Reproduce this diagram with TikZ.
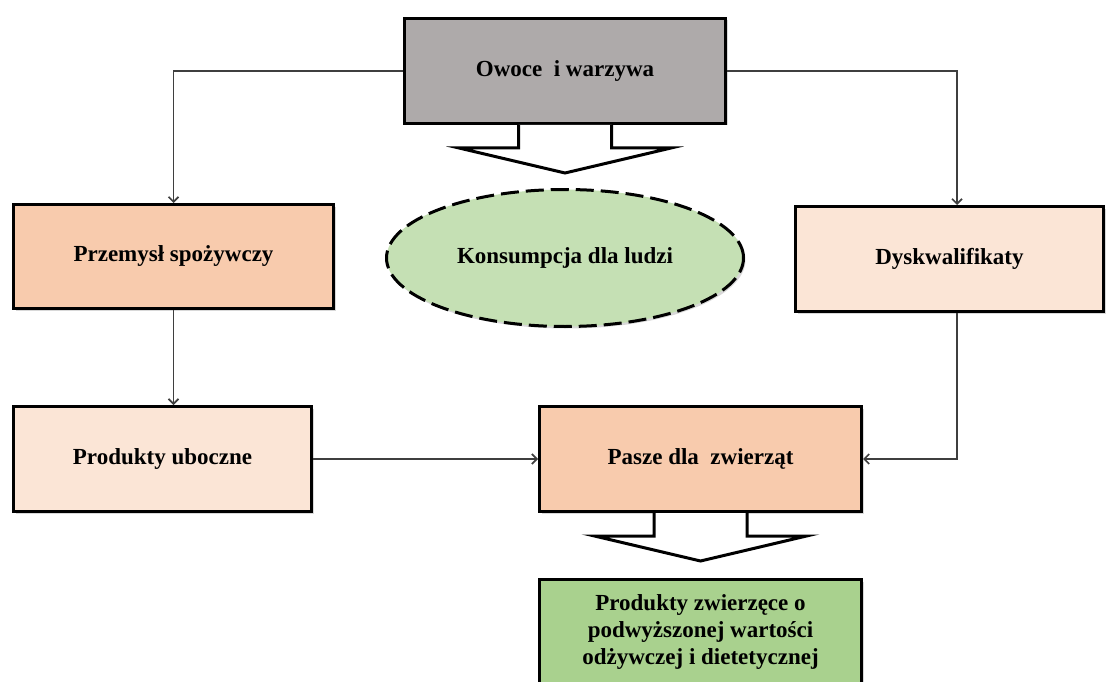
\documentclass[tikz,border=0pt]{standalone}
\usepackage{fontspec}
\setmainfont{Liberation Serif}
\usepackage{xcolor}
\usetikzlibrary{arrows.meta, shapes, backgrounds, shadows}

\definecolor{boxgray}{HTML}{AEAAAA}
\definecolor{peach}{HTML}{F8CBAD}
\definecolor{lightpeach}{HTML}{FBE5D6}
\definecolor{lightgreen}{HTML}{C5E0B4}
\definecolor{midgreen}{HTML}{A9D18E}
\definecolor{linegray}{HTML}{3F3F3F}

\begin{document}
\begin{tikzpicture}[x=1pt, y=-1pt, background rectangle/.style={fill=white}, show background rectangle, inner frame sep=0pt]
\useasboundingbox (0,0) rectangle (1106,682);

\begin{scope}[every node/.style={rectangle, draw=black, line width=3pt, align=center, inner sep=0pt,
              font=\bfseries\fontsize{23}{27}\selectfont,
              drop shadow={shadow xshift=2pt, shadow yshift=-2pt, opacity=0.3}}]
  \node[fill=boxgray, minimum width=321pt, minimum height=105pt] (owoce) at (565,71) {Owoce\ \ i warzywa};
    \node[fill=peach, minimum width=320pt, minimum height=104pt] (przemysl) at (173.5,256.5) {Przemysł spożywczy};
    \node[shape=ellipse, dashed, dash pattern=on 18pt off 7pt, fill=lightgreen, minimum width=357pt, minimum height=137pt] (konsumpcja) at (565,258) {Konsumpcja dla ludzi};
    \node[fill=lightpeach, minimum width=308pt, minimum height=105pt] (dysk) at (949.5,259) {Dyskwalifikaty};
    \node[fill=lightpeach, minimum width=298pt, minimum height=105pt] (uboczne) at (162.5,459) {Produkty uboczne};
    \node[fill=peach, minimum width=322pt, minimum height=105pt] (pasze) at (700.5,459) {Pasze dla\ \ zwierząt};
    \node[fill=midgreen, minimum width=322pt, minimum height=105pt] (zwierzece) at (700.5,632) {Produkty zwierzęce o\\podwyższonej wartości\\odżywczej i dietetycznej};
\end{scope}

% block arrows
\foreach \n in {owoce, pasze}
  \draw[line width=3pt, fill=white, line join=miter] ([xshift=-46.5pt]\n.south) -- ++(0,23) -- ++(-59.5,0) -- ++(106,25) -- ++(106,-25) -- ++(-59.5,0) -- ++(0,-23);

\begin{scope}[>={Straight Barb[length=5pt, width=10pt]},
              every edge/.style={draw=linegray, line width=1.7pt}]
    \draw[->, draw=linegray, line width=1.7pt] (owoce.west) -| (przemysl.north);
    \draw[->, draw=linegray, line width=1.7pt] (owoce.east) -| ([xshift=7.5pt]dysk.north);
    \path[->] (przemysl.south) edge (przemysl.south |- uboczne.north);
    \path[->] (uboczne) edge (pasze);
    \draw[->, draw=linegray, line width=1.7pt] ([xshift=7.5pt]dysk.south) |- (pasze.east);
\end{scope}

\end{tikzpicture}
\end{document}
